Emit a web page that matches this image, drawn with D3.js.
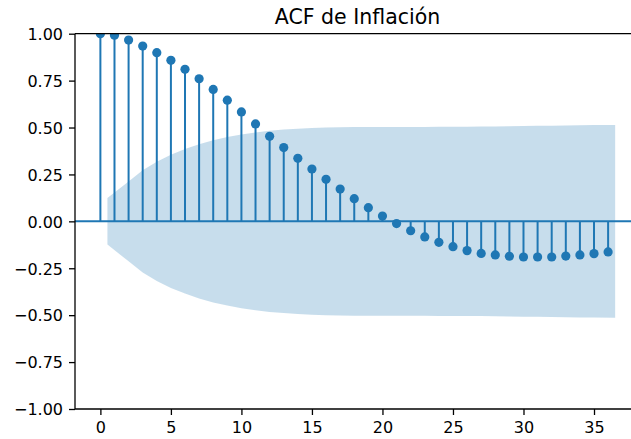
<!DOCTYPE html>
<html>
<head>
<meta charset="utf-8">
<script src="https://cdn.jsdelivr.net/npm/d3@7"></script>
<style>
  html, body { margin: 0; padding: 0; background: #fff; }
  svg { display: block; }
  text { font-family: "DejaVu Sans", sans-serif; fill: #000; }
</style>
</head>
<body>
<div id="chart"></div>
<script>
// ---- data ----
const title = "ACF de Inflación";
const lags = d3.range(0, 37);
const acfValues = [1.000, 0.992, 0.966, 0.934, 0.899, 0.858, 0.810, 0.760, 0.703, 0.646,
                   0.583, 0.519, 0.453, 0.393, 0.336, 0.279, 0.224, 0.172, 0.121, 0.073,
                   0.028, -0.012, -0.050, -0.083, -0.112, -0.135, -0.156, -0.171, -0.179, -0.186,
                   -0.190, -0.190, -0.190, -0.185, -0.179, -0.172, -0.163];
// half-width of the confidence band for lags 1..36
const bandLags = d3.range(1, 37);
const bandHalfWidth = [0.124, 0.213, 0.272, 0.318, 0.355, 0.385, 0.411, 0.432, 0.449, 0.463,
                       0.474, 0.483, 0.489, 0.494, 0.498, 0.500, 0.502, 0.503, 0.503, 0.503,
                       0.503, 0.503, 0.503, 0.504, 0.504, 0.504, 0.505, 0.506, 0.507, 0.508,
                       0.509, 0.510, 0.511, 0.512, 0.513, 0.514];
const xTicks = [0, 5, 10, 15, 20, 25, 30, 35];
const yTicks = [-1.00, -0.75, -0.50, -0.25, 0.00, 0.25, 0.50, 0.75, 1.00];

(function () {
// ---- layout ----
const W = 631, H = 439;
const mLeft = 75, mRight = 633.5, mTop = 33.7, mBottom = 409;
const C0 = "#1f77b4";

const svg = d3.select("#chart").append("svg").attr("width", W).attr("height", H);

const x = d3.scaleLinear().domain([-1.8, 37.8]).range([mLeft, mRight]);
const y = d3.scaleLinear().domain([-1, 1]).range([mBottom, mTop]);

svg.append("defs").append("clipPath").attr("id", "clip")
  .append("rect").attr("x", mLeft).attr("y", mTop).attr("width", mRight - mLeft).attr("height", mBottom - mTop);

const plot = svg.append("g").attr("clip-path", "url(#clip)");

// stems
plot.selectAll("line.stem").data(lags).join("line")
  .attr("class", "stem")
  .attr("x1", d => x(d)).attr("x2", d => x(d))
  .attr("y1", y(0)).attr("y2", (d, i) => y(acfValues[i]))
  .attr("stroke", C0).attr("stroke-width", 2);

// confidence band (edges centred at half lags)
const bandData = bandLags.map((l, i) => ({
  lag: i === 0 ? l - 0.5 : (i === bandLags.length - 1 ? l + 0.5 : l),
  w: bandHalfWidth[i]
}));
plot.append("path").datum(bandData)
  .attr("d", d3.area().x(d => x(d.lag)).y0(d => y(-d.w)).y1(d => y(d.w)))
  .attr("fill", C0).attr("fill-opacity", 0.25);

// markers
plot.selectAll("circle.pt").data(lags).join("circle")
  .attr("class", "pt")
  .attr("cx", d => x(d)).attr("cy", (d, i) => y(acfValues[i]))
  .attr("r", 4.6).attr("fill", C0);

// zero line
plot.append("line")
  .attr("x1", mLeft).attr("x2", mRight).attr("y1", y(0)).attr("y2", y(0))
  .attr("stroke", C0).attr("stroke-width", 2);

// axes
const fmtY = d => d3.format(".2f")(d).replace("-", "\u2212");
const yAxis = d3.axisLeft(y).tickValues(yTicks).tickFormat(fmtY).tickSize(6).tickPadding(6);
const xAxis = d3.axisBottom(x).tickValues(xTicks).tickFormat(d3.format("d")).tickSize(6).tickPadding(6);

const gy = svg.append("g").attr("transform", `translate(${mLeft},0)`).call(yAxis);
const gx = svg.append("g").attr("transform", `translate(0,${mBottom})`).call(xAxis);
[gx, gy].forEach(g => {
  g.select(".domain").remove();
  g.selectAll(".tick line").attr("stroke", "#000").attr("stroke-width", 1.3);
  g.selectAll(".tick text").attr("font-family", "DejaVu Sans").attr("font-size", 16).attr("fill", "#000");
});
gy.selectAll(".tick text").attr("dy", "0.36em");
gx.selectAll(".tick text").attr("dy", "0.74em");

// spines (left, bottom, top; right lies outside the picture)
const spine = svg.append("g").attr("stroke", "#000").attr("stroke-width", 1.3).attr("fill", "none");
spine.append("line").attr("x1", mLeft).attr("x2", mLeft).attr("y1", mTop).attr("y2", mBottom);
spine.append("line").attr("x1", mLeft).attr("x2", mRight).attr("y1", mBottom).attr("y2", mBottom);
spine.append("line").attr("x1", mLeft).attr("x2", mRight).attr("y1", mTop).attr("y2", mTop);
spine.append("line").attr("x1", mRight).attr("x2", mRight).attr("y1", mTop).attr("y2", mBottom);

// title
svg.append("text").attr("x", 357.5).attr("y", 24).attr("text-anchor", "middle")
  .attr("font-size", 20.5).text(title);
})();
</script>
</body>
</html>
